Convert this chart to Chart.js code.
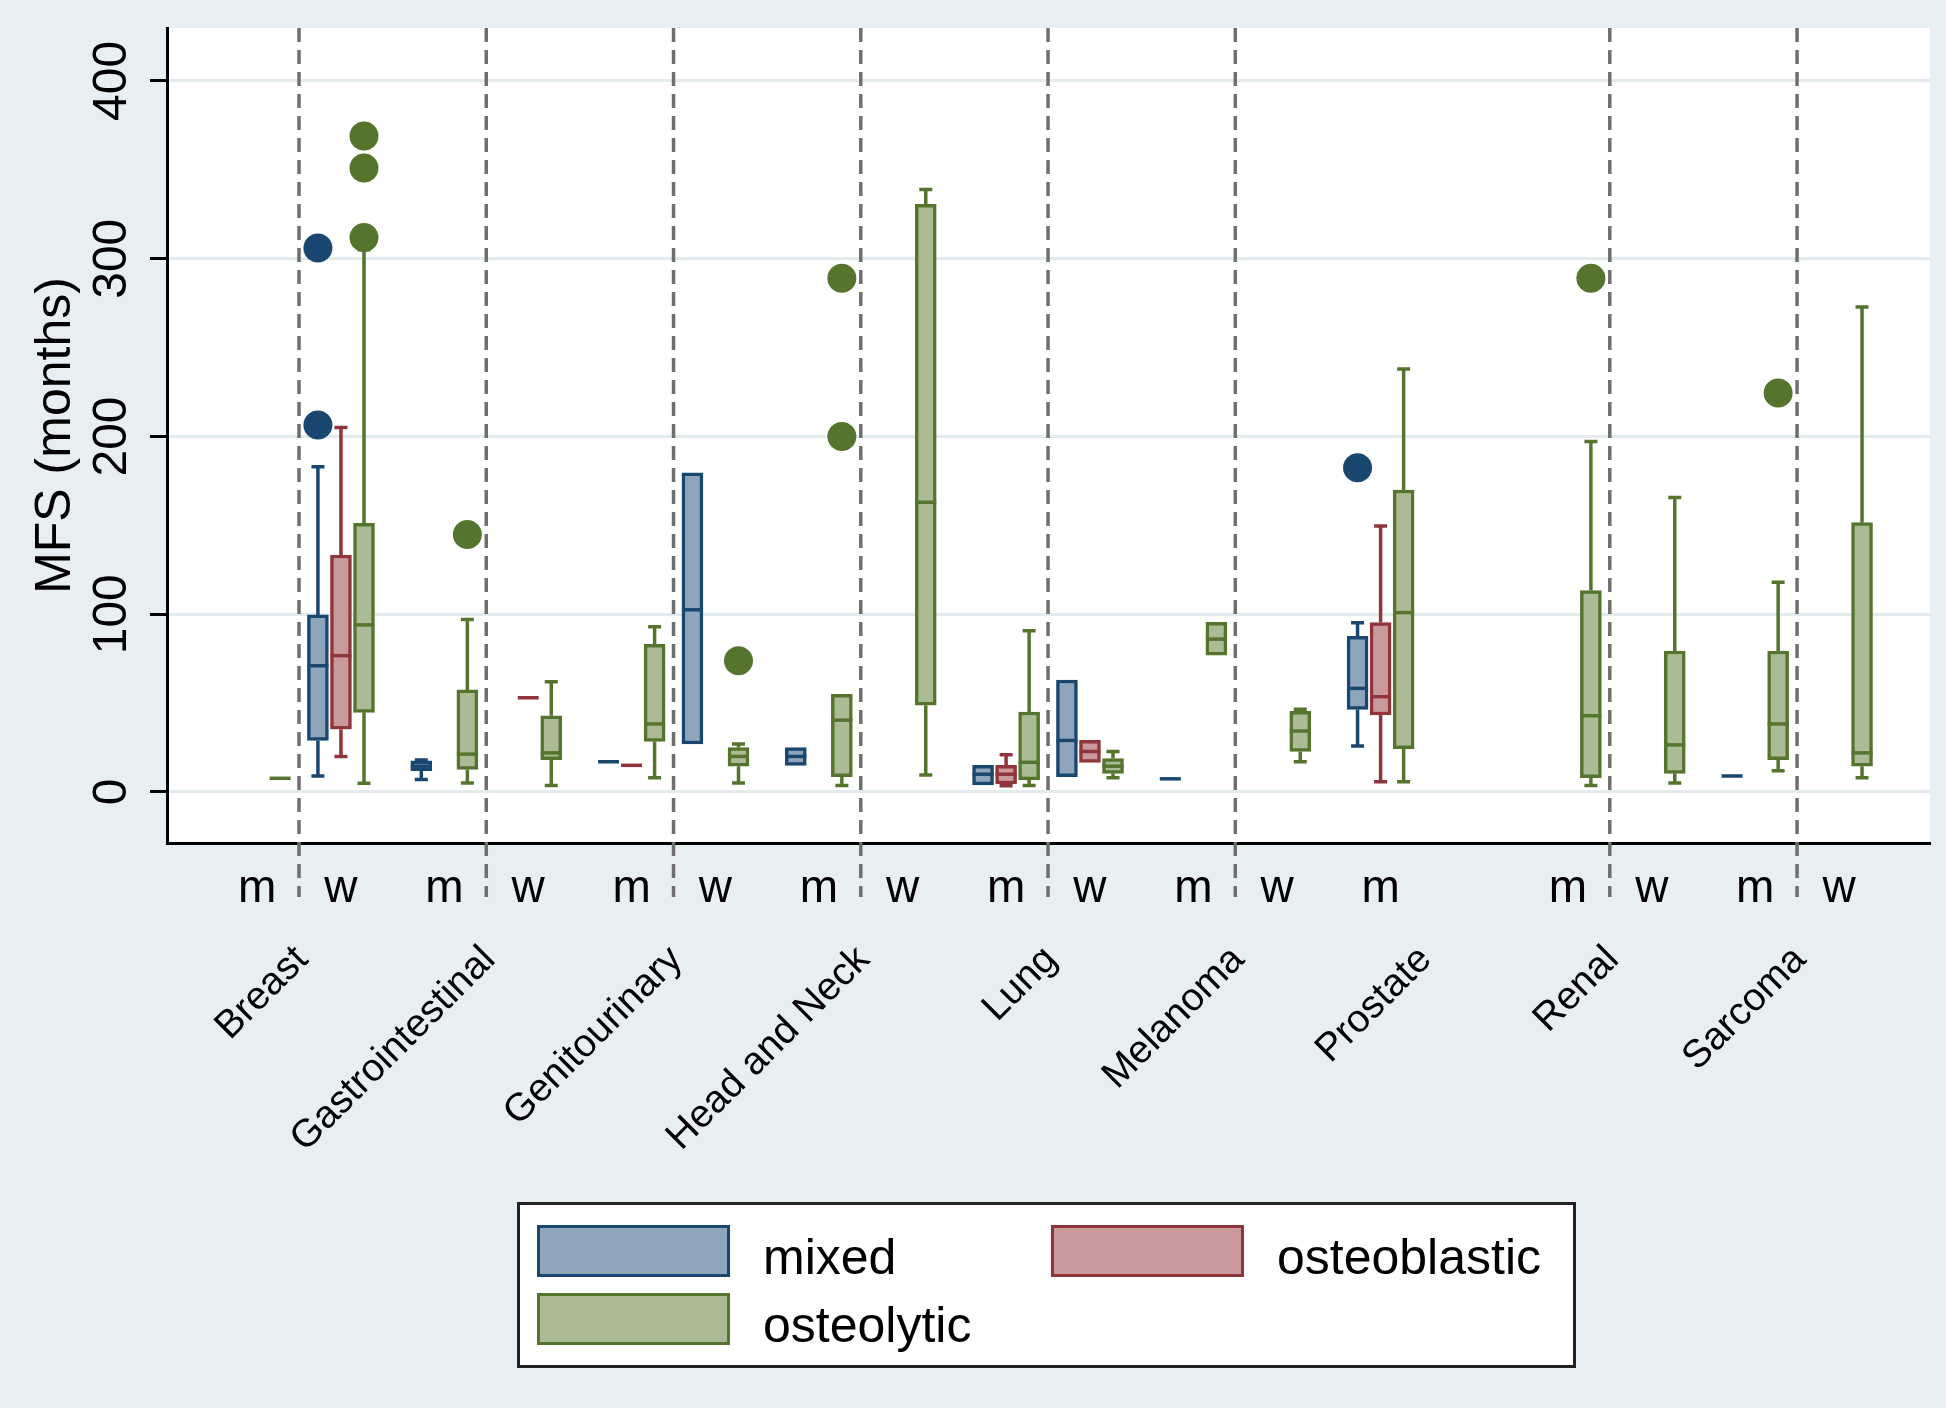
<!doctype html>
<html>

<head>
  <meta charset="utf-8">
  <title>MFS by primary tumour and lesion type</title>
  <style>
    html, body { margin: 0; padding: 0; background: #e8eff2; }
    .wrap { position: relative; width: 1946px; height: 1408px; }
    .legend {
      position: absolute; left: 517px; top: 1202px; width: 1053px; height: 160px;
      background: #fff; border: 3px solid #222;
      font-family: 'Liberation Sans', Arial, Helvetica, sans-serif; font-size: 50px; color: #000;
    }
    .item { position: absolute; display: flex; align-items: center; height: 52px; }
    .item span { position: relative; top: 6px; }
    .swatch { box-sizing: border-box; width: 193px; height: 52px; border: 3px solid; margin-right: 33px; }
  </style>
</head>

<body>
  <div class="wrap">
    <canvas id="myChart"></canvas>
    <div class="legend" id="legend"></div>
  </div>

  <script src="https://cdn.jsdelivr.net/npm/chart.js"></script>
  <script>
    const cancers = ['Breast', 'Gastrointestinal', 'Genitourinary', 'Head and Neck', 'Lung', 'Melanoma', 'Prostate', 'Renal', 'Sarcoma'];
    const sexes = ['m', 'w'];
    const seriesNames = ['mixed', 'osteoblastic', 'osteolytic'];
    const yTicks = [0, 100, 200, 300, 400];

    // [cancer, sex, lower whisker, q1, median, q3, upper whisker]
    const mixedBoxes = [
      ['Breast', 'w', 9, 29, 71, 99.6, 183],
      ['Gastrointestinal', 'm', 7, 12, 14.5, 17.5, 18],
      ['Genitourinary', 'm', 17, 17, 17, 17, 17],
      ['Genitourinary', 'w', 27, 27, 102.5, 179.6, 179.6],
      ['Head and Neck', 'm', 15, 15, 20, 25, 25],
      ['Lung', 'm', 4, 4, 10, 15, 15],
      ['Lung', 'w', 8.6, 8.6, 29, 63, 63],
      ['Melanoma', 'm', 7.4, 7.4, 7.4, 7.4, 7.4],
      ['Prostate', 'm', 25.9, 46.4, 58.3, 87.5, 95.2],
      ['Sarcoma', 'm', 9, 9, 9, 9, 9]
    ];
    const osteoblasticBoxes = [
      ['Breast', 'w', 19.9, 35.3, 76.7, 133.3, 205],
      ['Gastrointestinal', 'w', 53, 53, 53, 53, 53],
      ['Genitourinary', 'm', 15, 15, 15, 15, 15],
      ['Lung', 'm', 3.5, 4.5, 10, 15, 21],
      ['Lung', 'w', 16.7, 16.7, 22.8, 29, 29],
      ['Prostate', 'm', 5.8, 43.3, 53.6, 95.3, 149.6]
    ];
    const osteolyticBoxes = [
      ['Breast', 'm', 7.7, 7.7, 7.7, 7.7, 7.7],
      ['Breast', 'w', 4.9, 44.8, 94, 151.2, 305],
      ['Gastrointestinal', 'm', 5, 12.7, 21.3, 57.4, 97],
      ['Gastrointestinal', 'w', 3.7, 18.2, 22, 42.9, 62],
      ['Genitourinary', 'm', 8, 28.4, 38.3, 83, 93],
      ['Genitourinary', 'w', 5, 14.5, 20, 25, 27],
      ['Head and Neck', 'm', 3.7, 8.6, 40.4, 55, 55],
      ['Head and Neck', 'w', 9.6, 48.8, 163, 330.6, 339],
      ['Lung', 'm', 3.7, 6.8, 16.7, 45, 90.7],
      ['Lung', 'w', 8, 10.5, 14.5, 18.8, 22.8],
      ['Melanoma', 'm', 77, 77, 86, 95.4, 95.4],
      ['Melanoma', 'w', 17, 22.8, 34.3, 45.4, 46.5],
      ['Prostate', 'm', 5.8, 24.4, 100.9, 169.9, 238],
      ['Renal', 'm', 3.7, 8, 42.9, 113.3, 197.2],
      ['Renal', 'w', 5, 10.5, 26.5, 79.3, 165.7],
      ['Sarcoma', 'm', 12, 18.2, 38.3, 79.3, 118],
      ['Sarcoma', 'w', 8, 14.5, 22, 151.5, 272.8]
    ];

    // [cancer, sex, value]
    const mixedOutliers = [['Breast', 'w', 206.5], ['Breast', 'w', 306], ['Prostate', 'm', 182.4]];
    const osteoblasticOutliers = [];
    const osteolyticOutliers = [
      ['Breast', 'w', 312], ['Breast', 'w', 351], ['Breast', 'w', 369],
      ['Gastrointestinal', 'm', 144.8],
      ['Genitourinary', 'w', 73.8],
      ['Head and Neck', 'm', 200], ['Head and Neck', 'm', 289],
      ['Renal', 'm', 289],
      ['Sarcoma', 'm', 224.4]
    ];

    const lineColors = ['#1a476f', '#90353b', '#55752f'];
    const fillColors = ['#8fa5bc', '#c9999c', '#abbb95'];
    const allBoxes = [mixedBoxes, osteoblasticBoxes, osteolyticBoxes];
    const allOutliers = [mixedOutliers, osteoblasticOutliers, osteolyticOutliers];

    const sexShift = 0.224;
    const typeShift = 0.123;
    const font = "'Liberation Sans', Arial, Helvetica, sans-serif";

    function slotX(cancer, sex) {
      return cancers.indexOf(cancer) + (sex === 'm' ? -sexShift : sexShift);
    }
    function boxX(cancer, sex, s) {
      return slotX(cancer, sex) + (s - 1) * typeShift;
    }
    function hasSlot(c, sx) {
      return allBoxes.some((list) => list.some((b) => b[0] === c && b[1] === sx));
    }

    // m / w slots that hold any data, and dashed dividers where both are present
    const slots = [];
    cancers.forEach((c) => {
      sexes.forEach((sx) => {
        if (hasSlot(c, sx)) slots.push({ value: slotX(c, sx), label: sx });
      });
    });
    const dividers = cancers.map((c, i) => i).filter((i) => hasSlot(cancers[i], 'm') && hasSlot(cancers[i], 'w'));

    const datasets = [];
    seriesNames.forEach((name, s) => {
      datasets.push({
        type: 'bar',
        label: name,
        data: allBoxes[s].map((b) => ({ x: boxX(b[0], b[1], s), y: [b[3], b[5]] })),
        backgroundColor: fillColors[s],
        borderColor: lineColors[s],
        borderWidth: 3.5,
        borderSkipped: false,
        barThickness: 21,
        grouped: false,
        order: 1
      });
    });
    seriesNames.forEach((name, s) => {
      datasets.push({
        type: 'scatter',
        label: name + ' outliers',
        data: allOutliers[s].map((o) => ({ x: boxX(o[0], o[1], s), y: o[2] })),
        pointRadius: 14.5,
        pointBackgroundColor: lineColors[s],
        pointBorderWidth: 0,
        order: 0
      });
    });

    const boxParts = {
      id: 'boxParts',
      beforeDraw(chart) {
        const { ctx, chartArea: a } = chart;
        ctx.save();
        ctx.fillStyle = '#ffffff';
        ctx.fillRect(a.left, a.top, a.right - a.left, a.bottom - a.top);
        ctx.restore();
      },
      beforeDatasetsDraw(chart) {
        const { ctx, chartArea: a, scales: { x, y } } = chart;
        ctx.save();
        ctx.strokeStyle = '#6f6f6f';
        ctx.lineWidth = 3.5;
        ctx.setLineDash([14, 8]);
        dividers.forEach((i) => {
          const px = x.getPixelForValue(i);
          ctx.beginPath();
          ctx.moveTo(px, a.top);
          ctx.lineTo(px, a.bottom + 54);
          ctx.stroke();
        });
        ctx.setLineDash([]);
        allBoxes.forEach((list, s) => {
          ctx.strokeStyle = lineColors[s];
          list.forEach((b) => {
            const px = x.getPixelForValue(boxX(b[0], b[1], s));
            const parts = [[b[2], b[3]], [b[6], b[5]]];
            parts.forEach(([end, edge]) => {
              if (Math.abs(end - edge) < 0.01) return;
              const pe = y.getPixelForValue(end);
              ctx.beginPath();
              ctx.moveTo(px, y.getPixelForValue(edge));
              ctx.lineTo(px, pe);
              ctx.moveTo(px - 6.5, pe);
              ctx.lineTo(px + 6.5, pe);
              ctx.stroke();
            });
          });
        });
        ctx.restore();
      },
      afterDatasetsDraw(chart) {
        const { ctx, scales: { x, y } } = chart;
        ctx.save();
        ctx.lineWidth = 3.5;
        allBoxes.forEach((list, s) => {
          ctx.strokeStyle = lineColors[s];
          list.forEach((b) => {
            const px = x.getPixelForValue(boxX(b[0], b[1], s));
            const py = y.getPixelForValue(b[4]);
            ctx.beginPath();
            ctx.moveTo(px - 10.5, py);
            ctx.lineTo(px + 10.5, py);
            ctx.stroke();
          });
        });
        ctx.restore();
      }
    };

    const config = {
      type: 'bar',
      data: { datasets },
      options: {
        responsive: true,
        maintainAspectRatio: false,
        animation: false,
        layout: { padding: { left: 0, top: 28, right: 16, bottom: 0 } },
        plugins: {
          legend: { display: false },
          tooltip: { enabled: false }
        },
        scales: {
          x: {
            type: 'linear',
            position: 'bottom',
            min: -0.705,
            max: 8.71,
            offset: false,
            grid: { display: false, drawTicks: false, offset: false },
            border: { display: true, color: '#000', width: 3 },
            afterBuildTicks: (scale) => { scale.ticks = slots.map((s) => ({ value: s.value })); },
            afterFit: (scale) => { scale.height = 70; },
            ticks: {
              autoSkip: false,
              maxRotation: 0,
              padding: 19,
              color: '#000',
              font: { family: font, size: 46 },
              callback: (v, i) => slots[i] ? slots[i].label : ''
            }
          },
          xc: {
            type: 'linear',
            position: 'bottom',
            min: -0.705,
            max: 8.71,
            offset: false,
            grid: { display: false, drawTicks: false },
            border: { display: false },
            afterBuildTicks: (scale) => { scale.ticks = cancers.map((c, i) => ({ value: i })); },
            afterFit: (scale) => { scale.height = 495; },
            ticks: {
              autoSkip: false,
              minRotation: 45,
              maxRotation: 45,
              padding: 24,
              labelOffset: 3,
              color: '#000',
              font: { family: font, size: 39 },
              callback: (v, i) => cancers[i]
            }
          },
          y: {
            type: 'linear',
            min: -28.7,
            max: 429.8,
            afterBuildTicks: (scale) => { scale.ticks = yTicks.map((v) => ({ value: v })); },
            afterFit: (scale) => { scale.width = 167; },
            grid: { color: '#e3ebee', lineWidth: 3, tickColor: '#000', tickWidth: 3, tickLength: 17 },
            border: { display: true, color: '#000', width: 3 },
            ticks: {
              minRotation: 90,
              maxRotation: 90,
              crossAlign: 'center',
              padding: -3,
              color: '#000',
              font: { family: font, size: 48 }
            },
            title: {
              display: true,
              text: 'MFS (months)',
              color: '#000',
              padding: { top: 26, bottom: 0 },
              font: { family: font, size: 50 }
            }
          }
        }
      },
      plugins: [boxParts]
    };

    const canvas = document.getElementById('myChart');
    canvas.parentNode.style.width = '1946px';
    const myChart = new Chart(canvas, config);

    const legend = document.getElementById('legend');
    seriesNames.forEach((name, s) => {
      const item = document.createElement('div');
      item.className = 'item';
      item.style.left = (17 + (s % 2) * 514) + 'px';
      item.style.top = (20 + Math.floor(s / 2) * 68) + 'px';
      const sw = document.createElement('div');
      sw.className = 'swatch';
      sw.style.background = fillColors[s];
      sw.style.borderColor = lineColors[s];
      const label = document.createElement('span');
      label.textContent = name;
      item.appendChild(sw);
      item.appendChild(label);
      legend.appendChild(item);
    });
  </script>
</body>

</html>
